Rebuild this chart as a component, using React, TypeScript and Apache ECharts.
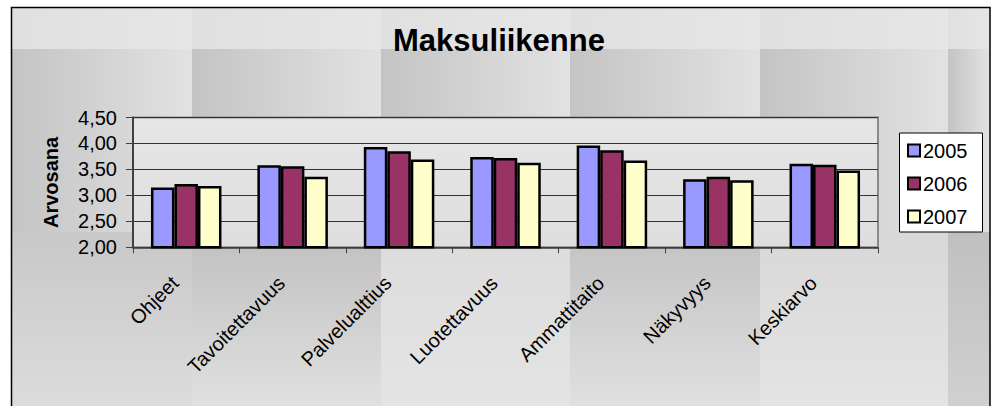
import React, { useEffect, useRef } from "react";
import * as echarts from "echarts";

const categories = ["Ohjeet", "Tavoitettavuus", "Palvelualttius", "Luotettavuus", "Ammattitaito", "Näkyvyys", "Keskiarvo"];
const seriesNames = ["2005", "2006", "2007"];
const values2005 = [3.15, 3.58, 3.93, 3.74, 3.96, 3.31, 3.61];
const values2006 = [3.22, 3.56, 3.85, 3.72, 3.87, 3.36, 3.59];
const values2007 = [3.18, 3.36, 3.69, 3.63, 3.67, 3.29, 3.48];
const seriesColors = ["#9999FF", "#993366", "#FFFFCC"];
const yMin = 2;
const yMax = 4.5;
const yInterval = 0.5;

const FONT = "'Liberation Sans', Arial, sans-serif";

function buildTiles() {
  const xs = [11, 192, 381, 570, 760, 948, 990];
  const ys = [7, 49, 232, 406];
  const els: any[] = [];
  const row2 = [
    ["#c8c8c8", "#dcdcdc"],
    ["#c0c0c0", "#e0e0e0"],
    ["#dcdcdc", "#e4e4e4"],
    ["#c2c2c2", "#e0e0e0"],
    ["#d8d8d8", "#e4e4e4"],
    ["#c0c0c0", "#d0d0d0"],
  ];
  for (let r = 0; r < 3; r++) {
    for (let c = 0; c < 6; c++) {
      let fill: any;
      if (r === 0) {
        fill = new echarts.graphic.LinearGradient(0, 0, 1, 0, [
          { offset: 0, color: "#e0e0e0" },
          { offset: 1, color: "#e6e6e6" },
        ]);
      } else if (r === 1) {
        fill = new echarts.graphic.LinearGradient(0, 0, 1, 0, [
          { offset: 0, color: "#c4c4c4" },
          { offset: 1, color: "#e2e2e2" },
        ]);
      } else {
        fill = new echarts.graphic.LinearGradient(0, 0, 0, 1, [
          { offset: 0, color: row2[c][0] },
          { offset: 1, color: row2[c][1] },
        ]);
      }
      els.push({
        type: "rect",
        z: -10,
        silent: true,
        shape: { x: xs[c], y: ys[r], width: xs[c + 1] - xs[c], height: ys[r + 1] - ys[r] },
        style: { fill },
      });
    }
  }
  els.push({
    type: "rect",
    z: -9,
    silent: true,
    shape: { x: 11.5, y: 7.5, width: 978.5, height: 420 },
    style: { fill: "none", stroke: "#000", lineWidth: 1.5 },
  });
  els.push({
    type: "rect",
    z: 9,
    silent: true,
    shape: { x: 899.5, y: 133, width: 83, height: 99 },
    style: { fill: "#ffffff", stroke: "#000", lineWidth: 1 },
  });
  return els;
}

export default function App() {
  const ref = useRef<HTMLDivElement>(null);
  useEffect(() => {
    if (!ref.current) return;
    const chart = echarts.init(ref.current, undefined, { renderer: "svg" });
    const allValues = [values2005, values2006, values2007];
    chart.setOption({
      animation: false,
      backgroundColor: "#ffffff",
      textStyle: { fontFamily: FONT },
      title: {
        text: "Maksuliikenne",
        left: "center",
        top: 20,
        textStyle: { fontFamily: FONT, fontSize: 31, fontWeight: "bold", color: "#000" },
      },
      graphic: buildTiles(),
      legend: {
        orient: "vertical",
        left: 907,
        top: 140.5,
        padding: 0,
        z: 10,
        itemWidth: 12,
        itemHeight: 12,
        itemGap: 13,
        icon: "rect",
        textStyle: { fontFamily: FONT, fontSize: 20, lineHeight: 20, color: "#000", padding: [0, 0, 0, -2] },
        data: seriesNames.map((n, i) => ({
          name: n,
          itemStyle: { color: seriesColors[i], borderColor: "#000", borderWidth: 2 },
        })),
      },
      grid: {
        left: 133,
        top: 117.5,
        right: 120,
        bottom: 158.7,
        show: true,
        borderColor: "#8a8a8a",
        borderWidth: 2,
        backgroundColor: new echarts.graphic.LinearGradient(0, 0, 0, 1, [
          { offset: 0, color: "#e6e6e6" },
          { offset: 1, color: "#dedede" },
        ]),
      },
      xAxis: {
        type: "category",
        data: categories,
        axisLine: { lineStyle: { color: "#404040", width: 1.5 } },
        axisTick: { show: true, length: 6, lineStyle: { color: "#404040", width: 1 } },
        axisLabel: {
          interval: 0,
          rotate: 45,
          margin: 21,
          padding: [0, 16, 0, 0],
          fontFamily: FONT,
          fontSize: 20,
          color: "#000",
        },
      },
      yAxis: {
        type: "value",
        min: yMin,
        max: yMax,
        interval: yInterval,
        name: "Arvosana",
        nameLocation: "middle",
        nameGap: 72,
        nameTextStyle: { fontFamily: FONT, fontSize: 20, fontWeight: "bold", color: "#000" },
        axisLine: { show: true, lineStyle: { color: "#404040", width: 2 } },
        axisTick: { show: true, inside: false, length: 7, lineStyle: { color: "#404040", width: 1 } },
        axisLabel: {
          margin: 16,
          fontFamily: FONT,
          fontSize: 20,
          color: "#000",
          formatter: (v: number) => v.toFixed(2).replace(".", ","),
        },
        splitLine: { show: true, lineStyle: { color: "#333", width: 1 } },
      },
      series: seriesNames.map((n, i) => ({
        name: n,
        type: "bar",
        data: allValues[i],
        barWidth: 23.5,
        barGap: "0%",
        itemStyle: { color: seriesColors[i], borderColor: "#000", borderWidth: 2.5 },
      })),
    });
    return () => chart.dispose();
  }, []);
  return (
    <div style={{ position: "fixed", left: 0, top: 0, width: 998, height: 406 }}>
      <div ref={ref} style={{ width: 998, height: 406 }} />
    </div>
  );
}
